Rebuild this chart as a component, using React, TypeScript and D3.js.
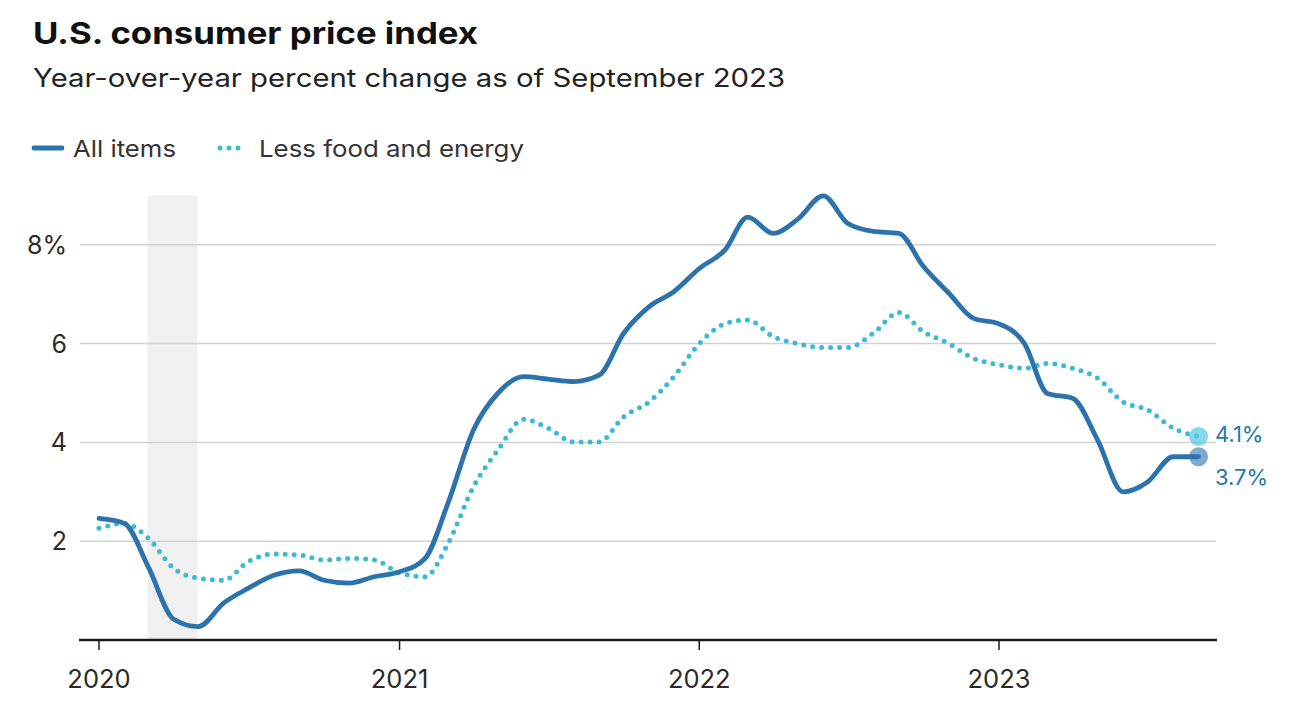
import React from 'react';
import * as d3 from 'd3';

// Monthly observations, Jan 2020 - Sep 2023
const months = [
  '2020-01', '2020-02', '2020-03', '2020-04', '2020-05', '2020-06', '2020-07', '2020-08', '2020-09', '2020-10', '2020-11', '2020-12',
  '2021-01', '2021-02', '2021-03', '2021-04', '2021-05', '2021-06', '2021-07', '2021-08', '2021-09', '2021-10', '2021-11', '2021-12',
  '2022-01', '2022-02', '2022-03', '2022-04', '2022-05', '2022-06', '2022-07', '2022-08', '2022-09', '2022-10', '2022-11', '2022-12',
  '2023-01', '2023-02', '2023-03', '2023-04', '2023-05', '2023-06', '2023-07', '2023-08', '2023-09',
];

const allItems = [
  2.46, 2.36, 1.48, 0.42, 0.27, 0.75, 1.05, 1.31, 1.4, 1.21, 1.15, 1.28,
  1.38, 1.65, 2.77, 4.25, 5.0, 5.33, 5.28, 5.23, 5.36, 6.21, 6.75, 7.05,
  7.52, 7.89, 8.56, 8.23, 8.52, 8.99, 8.43, 8.27, 8.23, 7.56, 7.02, 6.51,
  6.4, 6.0, 4.99, 4.89, 4.05, 3.0, 3.2, 3.71, 3.71,
];

const lessFoodEnergy = [
  2.26, 2.36, 2.06, 1.45, 1.25, 1.21, 1.59, 1.74, 1.72, 1.62, 1.65, 1.62,
  1.36, 1.28, 1.95, 3.1, 3.85, 4.47, 4.29, 4.01, 4.01, 4.52, 4.82, 5.33,
  6.0, 6.4, 6.48, 6.14, 6.0, 5.92, 5.92, 6.21, 6.63, 6.24, 6.0, 5.7,
  5.57, 5.5, 5.6, 5.5, 5.3, 4.82, 4.66, 4.29, 4.12,
];

const yTicks = [2, 4, 6, 8];
const xTickYears = ['2020', '2021', '2022', '2023'];
const recession = ['2020-02-29', '2020-04-30'];
const endLabels = ['4.1%', '3.7%'];

const FONT = 'Inter, Lato, sans-serif';
const BLUE = '#2c73ae';
const CYAN = '#3bbad6';

const parseMonth = d3.timeParse('%Y-%m');
const parseDay = d3.timeParse('%Y-%m-%d');

const App: React.FC = () => {
  const width = 1304;
  const height = 718;
  const plotLeft = 80;
  const plotRight = 1216;

  const x = d3.scaleTime()
    .domain([new Date(2020, 0, 1), new Date(2023, 0, 1)])
    .range([99, 999]);
  const y = d3.scaleLinear().domain([0, 9]).range([640, 195.4]);

  const dates = months.map(m => parseMonth(m) as Date);

  const line = d3.line<number>()
    .x((_, i) => x(dates[i]))
    .y(d => y(d))
    .curve(d3.curveMonotoneX);

  const lastX = x(dates[dates.length - 1]);
  const lastAll = allItems[allItems.length - 1];
  const lastCore = lessFoodEnergy[lessFoodEnergy.length - 1];

  const r0 = x(parseDay(recession[0]) as Date);
  const r1 = x(parseDay(recession[1]) as Date);

  return (
    <div style={{ position: 'fixed', left: 0, top: 0, background: '#fff' }}>
      <svg width={width} height={height} style={{ display: 'block', fontFamily: FONT }}>
        <rect width={width} height={height} fill="#fff" />

        {/* Header */}
        <text x={33} y={44} fontSize={30} fontWeight={700} fill="#111"
          textLength={445} lengthAdjust="spacingAndGlyphs">U.S. consumer price index</text>
        <text x={33} y={87} fontSize={25} fill="#222"
          textLength={752} lengthAdjust="spacingAndGlyphs">Year-over-year percent change as of September 2023</text>

        {/* Legend */}
        <line x1={34} x2={62} y1={148} y2={148} stroke={BLUE} strokeWidth={4.8} strokeLinecap="round" />
        <text x={73} y={157} fontSize={23.5} fill="#333" textLength={103} lengthAdjust="spacingAndGlyphs">All items</text>
        <line x1={220} x2={240} y1={148} y2={148} stroke={CYAN} strokeWidth={5}
          strokeLinecap="round" strokeDasharray="0 9" />
        <text x={259} y={157} fontSize={23.5} fill="#333" textLength={265} lengthAdjust="spacingAndGlyphs">Less food and energy</text>

        {/* Recession shading */}
        <rect x={r0} y={y(9)} width={r1 - r0} height={y(0) - y(9)} fill="#f0f0f0" />

        {/* Grid + y labels */}
        {yTicks.map(t => (
          <g key={t}>
            <line x1={plotLeft} x2={plotRight} y1={y(t)} y2={y(t)} stroke="#d2d2d2" strokeWidth={1.5} />
            <text x={67} y={y(t) + 9} fontSize={25} textAnchor="end" fill="#2a2a2a">
              {t === 8 ? `${t}%` : t}
            </text>
          </g>
        ))}

        {/* X axis */}
        <line x1={79} x2={1217} y1={640} y2={640} stroke="#1a1a1a" strokeWidth={2.5} />
        {xTickYears.map(yr => {
          const px = x(new Date(+yr, 0, 1));
          return (
            <g key={yr}>
              <line x1={px} x2={px} y1={640} y2={650} stroke="#1a1a1a" strokeWidth={1.5} />
              <text x={px} y={688} fontSize={25.5} textAnchor="middle" fill="#2a2a2a">{yr}</text>
            </g>
          );
        })}

        {/* Series */}
        <path d={line(lessFoodEnergy) || ''} fill="none" stroke={CYAN} strokeWidth={5}
          strokeLinecap="round" strokeDasharray="0 9" />
        <path d={line(allItems) || ''} fill="none" stroke={BLUE} strokeWidth={4.8}
          strokeLinejoin="round" strokeLinecap="round" />

        {/* End markers */}
        <circle cx={lastX} cy={y(lastCore)} r={9.5} fill="#5fcbe6" fillOpacity={0.75} />
        <circle cx={lastX} cy={y(lastAll)} r={9.5} fill="#2c73ae" fillOpacity={0.6} />
        <text x={1215} y={y(lastCore) + 6} fontSize={22} fill="#2379a8">{endLabels[0]}</text>
        <text x={1215} y={y(lastAll) + 28} fontSize={22} fill="#2379a8">{endLabels[1]}</text>
      </svg>
    </div>
  );
};

export default App;
